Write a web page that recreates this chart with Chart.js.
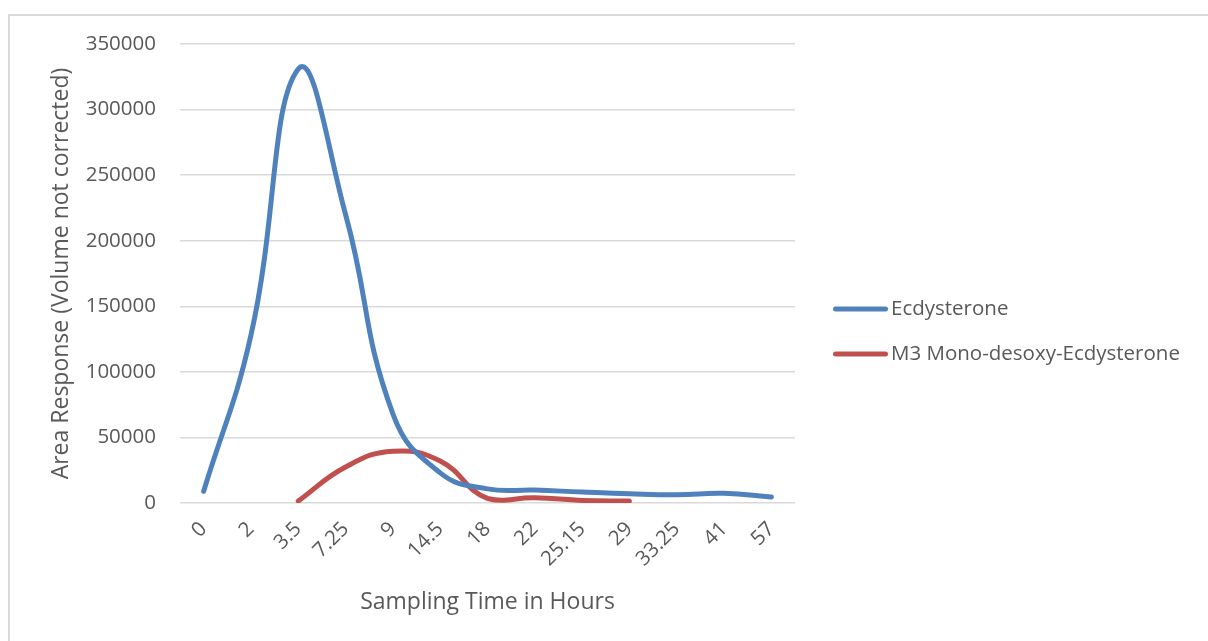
<!DOCTYPE html>
<html><head><meta charset="utf-8">
<script src="https://cdn.jsdelivr.net/npm/chart.js@4.4.0/dist/chart.umd.min.js"></script>
<style>
html,body{margin:0;padding:0;background:#fff;overflow:hidden}
#wrap{position:relative;width:1208px;height:641px}
#frame{position:absolute;left:8px;top:14px;width:1300px;height:700px;border:2px solid #d9d9d9;box-sizing:border-box;pointer-events:none}
canvas{position:absolute;left:0;top:0}
</style></head><body>
<div id="wrap"><canvas id="c" width="1208" height="641"></canvas><div id="frame"></div></div>
<script>
const categories = ['0','2','3.5','7.25','9','14.5','18','22','25.15','29','33.25','41','57'];
const ecdysterone = [9000,128000,331000,220000,68000,23000,10800,9900,8400,7100,6400,7400,4600];
const m3Desoxy = [null,null,1500,27500,39500,32000,3500,4000,2000,1500,null,null,null];
const yMin = 0, yMax = 350000, yStep = 50000;
const seriesNames = ['Ecdysterone','M3 Mono-desoxy-Ecdysterone'];
const xTitle = 'Sampling Time in Hours';
const yTitle = 'Area Response (Volume not corrected)';

const FONT = '"Open Sans", "Liberation Sans", sans-serif';
const GRAY = '#595959';
const canvas = document.getElementById('c');
canvas.style.width = '1208px';
canvas.style.height = '641px';

// Legend drawn at the right of the plot area, from the chart's own datasets
const sideLegend = {
  id: 'sideLegend',
  afterDraw(chart) {
    const ctx = chart.ctx;
    const area = chart.chartArea;
    const x0 = area.right + 38;
    const rows = [309, 354];
    ctx.save();
    ctx.font = '20.5px ' + FONT;
    ctx.textBaseline = 'middle';
    ctx.textAlign = 'left';
    chart.data.datasets.forEach((ds, i) => {
      const y = rows[i];
      ctx.strokeStyle = ds.borderColor;
      ctx.lineWidth = 5;
      ctx.lineCap = 'round';
      ctx.beginPath();
      ctx.moveTo(x0 + 2.5, y);
      ctx.lineTo(x0 + 52.5, y);
      ctx.stroke();
      ctx.fillStyle = GRAY;
      ctx.fillText(ds.label, x0 + 58, y);
    });
    ctx.restore();
  }
};

new Chart(canvas, {
  type: 'line',
  data: {
    labels: categories,
    datasets: [
      {label: seriesNames[0], data: ecdysterone, borderColor: '#4f81bd', backgroundColor: '#4f81bd',
       borderWidth: 5, tension: 0.45, pointRadius: 0, borderCapStyle: 'round', borderJoinStyle: 'round', fill: false},
      {label: seriesNames[1], data: m3Desoxy, borderColor: '#c0504d', backgroundColor: '#c0504d',
       borderWidth: 5, tension: 0.45, pointRadius: 0, borderCapStyle: 'round', borderJoinStyle: 'round', fill: false, spanGaps: false}
    ]
  },
  plugins: [sideLegend],
  options: {
    responsive: false,
    animation: false,
    devicePixelRatio: 1,
    layout: {padding: {left: 48, right: 413, top: 44, bottom: 25}},
    plugins: {
      tooltip: {enabled: false},
      legend: {display: false}
    },
    scales: {
      x: {
        type: 'category',
        offset: true,
        grid: {display: false, drawTicks: false},
        border: {display: false},
        ticks: {font: {family: FONT, size: 20.5}, color: GRAY, maxRotation: 45, minRotation: 45, padding: 14, autoSkip: false},
        title: {display: true, text: xTitle, font: {family: FONT, size: 23}, color: GRAY, padding: {top: 3, bottom: 0}}
      },
      y: {
        min: yMin, max: yMax,
        afterFit: (scale) => { scale.width = 132; },
        grid: {color: '#d9d9d9', lineWidth: 1.5, drawTicks: false},
        border: {display: false},
        ticks: {stepSize: yStep, font: {family: FONT, size: 20.5}, color: GRAY, padding: 24,
                callback: (v) => String(v)},
        title: {display: true, text: yTitle, font: {family: FONT, size: 23}, color: GRAY, padding: {top: 0, bottom: 9}}
      }
    }
  }
});
</script>
</body></html>
